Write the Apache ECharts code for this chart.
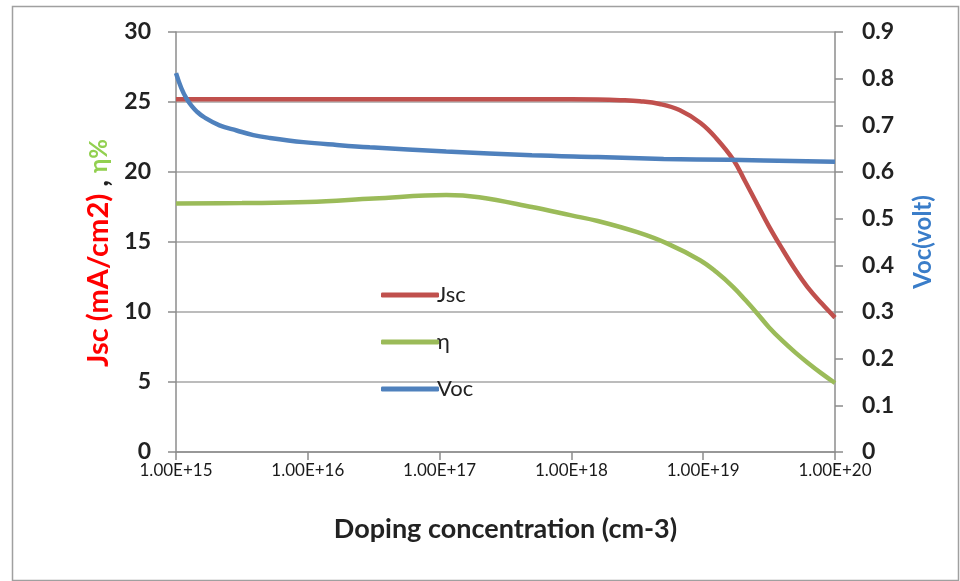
<!DOCTYPE html>
<html>
<head>
<meta charset="utf-8">
<script src="https://cdn.jsdelivr.net/npm/echarts@6/dist/echarts.min.js"></script>
<style>html,body{margin:0;padding:0;background:#fff}#c{width:960px;height:581px}</style>
</head>
<body>
<div id="c"></div>
<script>
// x values are log10 of doping concentration (cm-3)
const jscLogX = [15, 16, 17, 18, 18.2, 18.37, 18.52, 18.67, 18.82, 18.98, 19.1, 19.23, 19.32, 19.41, 19.5, 19.6, 19.7, 19.79, 19.9, 20];
const jscY    = [25.2, 25.2, 25.2, 25.2, 25.18, 25.13, 25.05, 24.86, 24.43, 23.5, 22.4, 20.86, 19.3, 17.7, 16.1, 14.5, 13.0, 11.8, 10.6, 9.6];
const etaLogX = [15, 15.5, 16, 16.5, 17.05, 17.3, 17.7, 18, 18.2, 18.5, 18.725, 18.976, 19.1, 19.226, 19.32, 19.41, 19.5, 19.6, 19.7, 19.79, 19.9, 20];
const etaY    = [17.75, 17.78, 17.85, 18.1, 18.36, 18.2, 17.5, 16.9, 16.5, 15.7, 14.9, 13.7, 12.85, 11.8, 10.85, 9.9, 8.9, 7.95, 7.1, 6.4, 5.6, 4.93];
const vocLogX = [15, 15.04, 15.08, 15.12, 15.16, 15.21, 15.33, 15.46, 15.587, 15.713, 15.966, 16.22, 16.47, 17.05, 17.7, 18.2, 18.7, 19.2, 20];
const vocY    = [0.812, 0.780, 0.757, 0.741, 0.729, 0.718, 0.700, 0.689, 0.679, 0.673, 0.664, 0.658, 0.653, 0.644, 0.636, 0.632, 0.628, 0.626, 0.622];
const xTicks     = [15, 20, 1];      // decades 1.00E+15 .. 1.00E+20
const leftTicks  = [0, 30, 5];
const rightTicks = [0, 0.9, 0.1];

const zip = (xs, ys) => xs.map((x, i) => [x, ys[i]]);
const FONT = 'Lato, "Open Sans", sans-serif';
const RED = '#c0504d', GREEN = '#9bbb59', BLUE = '#4f81bd';

const chart = echarts.init(document.getElementById('c'));
chart.setOption({
  backgroundColor: '#fff',
  animation: false,
  textStyle: { fontFamily: FONT },
  graphic: [{
    type: 'rect', left: 10, top: 4, shape: { width: 946, height: 574 },
    style: { fill: 'none', stroke: '#a0a0a0', lineWidth: 1.5 }, silent: true
  }],
  grid: { left: 176, right: 125, top: 32, bottom: 129 },
  legend: {
    orient: 'vertical', left: 376, top: 279, itemGap: 25,
    itemWidth: 58, itemHeight: 5, icon: 'roundRect',
    textStyle: { fontFamily: FONT, fontSize: 22, color: '#222', padding: [0, 0, 0, -7] },
    data: ['Jsc', 'η', 'Voc']
  },
  xAxis: {
    type: 'value', min: xTicks[0], max: xTicks[1], interval: xTicks[2],
    name: 'Doping concentration (cm-3)', nameLocation: 'middle', nameGap: 64,
    nameTextStyle: { fontFamily: FONT, fontSize: 27, fontWeight: 'bold', color: '#222' },
    axisLine: { lineStyle: { color: '#8c8c8c', width: 1.5 } },
    axisTick: { show: true, length: 8, lineStyle: { color: '#8c8c8c', width: 1.5 } },
    splitLine: { show: false },
    axisLabel: {
      fontFamily: FONT, fontSize: 17, color: '#1a1a1a', margin: 10,
      formatter: v => '1.00E+' + Math.round(v)
    }
  },
  yAxis: [{
    type: 'value', min: leftTicks[0], max: leftTicks[1], interval: leftTicks[2],
    position: 'left',
    name: '{a|Jsc (mA/cm2)}{b| , }{c|η%}', nameLocation: 'middle', nameGap: 62, nameRotate: 90,
    nameTextStyle: {
      fontFamily: FONT, fontSize: 29, fontWeight: 'bold', padding: [0, 22, 0, 0],
      rich: {
        a: { color: '#ff0000', fontSize: 29, fontWeight: 'bold', fontFamily: FONT },
        b: { color: '#222', fontSize: 29, fontWeight: 'bold', fontFamily: FONT },
        c: { color: '#92d050', fontSize: 24, fontWeight: 'bold', fontFamily: FONT }
      }
    },
    axisLine: { show: true, lineStyle: { color: '#8c8c8c', width: 1.5 } },
    axisTick: { show: true, length: 8, lineStyle: { color: '#8c8c8c', width: 1.5 } },
    splitLine: { show: true, lineStyle: { color: '#a6a6a6', width: 1.5 } },
    axisLabel: { fontFamily: FONT, fontSize: 23, fontWeight: 'bold', color: '#222', margin: 25 }
  }, {
    type: 'value', min: rightTicks[0], max: rightTicks[1], interval: rightTicks[2],
    position: 'right',
    name: 'Voc(volt)', nameLocation: 'middle', nameGap: 76, nameRotate: 90,
    nameTextStyle: { fontFamily: FONT, fontSize: 24, fontWeight: 'bold', color: '#3a7dc9' },
    axisLine: { show: true, lineStyle: { color: '#8c8c8c', width: 1.5 } },
    axisTick: { show: true, length: 8, lineStyle: { color: '#8c8c8c', width: 1.5 } },
    splitLine: { show: false },
    axisLabel: { fontFamily: FONT, fontSize: 23, fontWeight: 'bold', color: '#222', margin: 27,
      formatter: v => String(Math.round(v * 10) / 10) }
  }],
  series: [{
    name: 'Jsc', type: 'line', yAxisIndex: 0, data: zip(jscLogX, jscY),
    smooth: 0.4, showSymbol: false, color: RED,
    lineStyle: { width: 4.5, color: RED }
  }, {
    name: 'η', type: 'line', yAxisIndex: 0, data: zip(etaLogX, etaY),
    smooth: 0.4, showSymbol: false, color: GREEN,
    lineStyle: { width: 4.5, color: GREEN }
  }, {
    name: 'Voc', type: 'line', yAxisIndex: 1, data: zip(vocLogX, vocY),
    smooth: 0.4, showSymbol: false, color: BLUE,
    lineStyle: { width: 4.5, color: BLUE }
  }]
});
</script>
</body>
</html>
